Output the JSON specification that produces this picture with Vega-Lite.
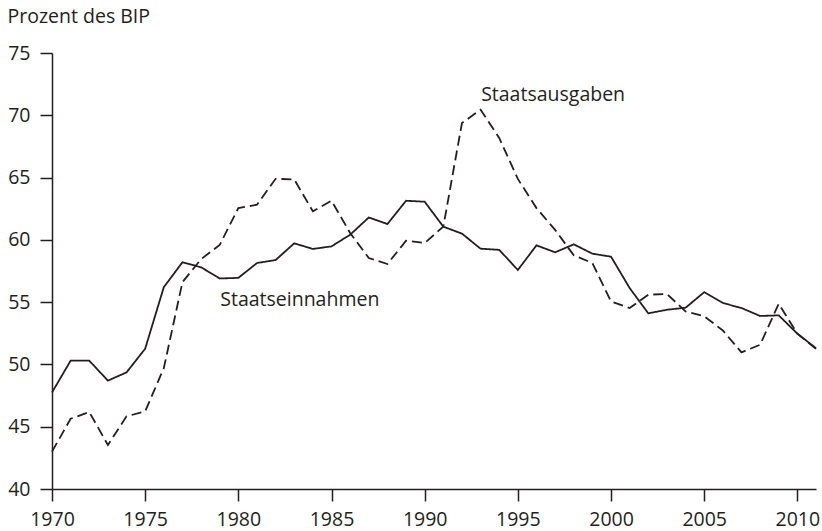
{
  "$schema": "https://vega.github.io/schema/vega-lite/v6.json",
  "width": 764,
  "height": 436,
  "autosize": {"type": "none"},
  "padding": {"left": 52, "top": 53, "right": 6, "bottom": 42},
  "background": "white",
  "config": {
    "view": {"stroke": null},
    "font": "Open Sans",
    "axis": {
      "grid": false,
      "domainColor": "#231f20",
      "domainWidth": 1.5,
      "tickColor": "#231f20",
      "tickWidth": 1.5,
      "tickSize": 12,
      "labelColor": "#231f20",
      "labelFont": "Open Sans",
      "labelFontSize": 19.5,
      "labelPadding": 9,
      "labelFlush": false,
      "labelOverlap": false
    }
  },
  "datasets": {
    "series": [
      {"year": 1970, "series": "Staatseinnahmen", "value": 47.75},
      {"year": 1971, "series": "Staatseinnahmen", "value": 50.3},
      {"year": 1972, "series": "Staatseinnahmen", "value": 50.3},
      {"year": 1973, "series": "Staatseinnahmen", "value": 48.7},
      {"year": 1974, "series": "Staatseinnahmen", "value": 49.36},
      {"year": 1975, "series": "Staatseinnahmen", "value": 51.26},
      {"year": 1976, "series": "Staatseinnahmen", "value": 56.2},
      {"year": 1977, "series": "Staatseinnahmen", "value": 58.2},
      {"year": 1978, "series": "Staatseinnahmen", "value": 57.8},
      {"year": 1979, "series": "Staatseinnahmen", "value": 56.9},
      {"year": 1980, "series": "Staatseinnahmen", "value": 56.95},
      {"year": 1981, "series": "Staatseinnahmen", "value": 58.14},
      {"year": 1982, "series": "Staatseinnahmen", "value": 58.38},
      {"year": 1983, "series": "Staatseinnahmen", "value": 59.72},
      {"year": 1984, "series": "Staatseinnahmen", "value": 59.27},
      {"year": 1985, "series": "Staatseinnahmen", "value": 59.48},
      {"year": 1986, "series": "Staatseinnahmen", "value": 60.41},
      {"year": 1987, "series": "Staatseinnahmen", "value": 61.8},
      {"year": 1988, "series": "Staatseinnahmen", "value": 61.27},
      {"year": 1989, "series": "Staatseinnahmen", "value": 63.14},
      {"year": 1990, "series": "Staatseinnahmen", "value": 63.06},
      {"year": 1991, "series": "Staatseinnahmen", "value": 61.06},
      {"year": 1992, "series": "Staatseinnahmen", "value": 60.5},
      {"year": 1993, "series": "Staatseinnahmen", "value": 59.29},
      {"year": 1994, "series": "Staatseinnahmen", "value": 59.2},
      {"year": 1995, "series": "Staatseinnahmen", "value": 57.58},
      {"year": 1996, "series": "Staatseinnahmen", "value": 59.56},
      {"year": 1997, "series": "Staatseinnahmen", "value": 59.0},
      {"year": 1998, "series": "Staatseinnahmen", "value": 59.64},
      {"year": 1999, "series": "Staatseinnahmen", "value": 58.89},
      {"year": 2000, "series": "Staatseinnahmen", "value": 58.65},
      {"year": 2001, "series": "Staatseinnahmen", "value": 56.13},
      {"year": 2002, "series": "Staatseinnahmen", "value": 54.1},
      {"year": 2003, "series": "Staatseinnahmen", "value": 54.39},
      {"year": 2004, "series": "Staatseinnahmen", "value": 54.55},
      {"year": 2005, "series": "Staatseinnahmen", "value": 55.8},
      {"year": 2006, "series": "Staatseinnahmen", "value": 54.93},
      {"year": 2007, "series": "Staatseinnahmen", "value": 54.53},
      {"year": 2008, "series": "Staatseinnahmen", "value": 53.89},
      {"year": 2009, "series": "Staatseinnahmen", "value": 53.94},
      {"year": 2010, "series": "Staatseinnahmen", "value": 52.47},
      {"year": 2011, "series": "Staatseinnahmen", "value": 51.3},
      {"year": 1970, "series": "Staatsausgaben", "value": 43.0},
      {"year": 1971, "series": "Staatsausgaben", "value": 45.64},
      {"year": 1972, "series": "Staatsausgaben", "value": 46.18},
      {"year": 1973, "series": "Staatsausgaben", "value": 43.53},
      {"year": 1974, "series": "Staatsausgaben", "value": 45.83},
      {"year": 1975, "series": "Staatsausgaben", "value": 46.23},
      {"year": 1976, "series": "Staatsausgaben", "value": 49.7},
      {"year": 1977, "series": "Staatsausgaben", "value": 56.6},
      {"year": 1978, "series": "Staatsausgaben", "value": 58.45},
      {"year": 1979, "series": "Staatsausgaben", "value": 59.6},
      {"year": 1980, "series": "Staatsausgaben", "value": 62.55},
      {"year": 1981, "series": "Staatsausgaben", "value": 62.82},
      {"year": 1982, "series": "Staatsausgaben", "value": 64.9},
      {"year": 1983, "series": "Staatsausgaben", "value": 64.85},
      {"year": 1984, "series": "Staatsausgaben", "value": 62.29},
      {"year": 1985, "series": "Staatsausgaben", "value": 63.14},
      {"year": 1986, "series": "Staatsausgaben", "value": 60.55},
      {"year": 1987, "series": "Staatsausgaben", "value": 58.54},
      {"year": 1988, "series": "Staatsausgaben", "value": 58.06},
      {"year": 1989, "series": "Staatsausgaben", "value": 59.93},
      {"year": 1990, "series": "Staatsausgaben", "value": 59.75},
      {"year": 1991, "series": "Staatsausgaben", "value": 61.06},
      {"year": 1992, "series": "Staatsausgaben", "value": 69.38},
      {"year": 1993, "series": "Staatsausgaben", "value": 70.45},
      {"year": 1994, "series": "Staatsausgaben", "value": 68.18},
      {"year": 1995, "series": "Staatsausgaben", "value": 64.89},
      {"year": 1996, "series": "Staatsausgaben", "value": 62.55},
      {"year": 1997, "series": "Staatsausgaben", "value": 60.8},
      {"year": 1998, "series": "Staatsausgaben", "value": 58.76},
      {"year": 1999, "series": "Staatsausgaben", "value": 58.14},
      {"year": 2000, "series": "Staatsausgaben", "value": 55.06},
      {"year": 2001, "series": "Staatsausgaben", "value": 54.53},
      {"year": 2002, "series": "Staatsausgaben", "value": 55.6},
      {"year": 2003, "series": "Staatsausgaben", "value": 55.65},
      {"year": 2004, "series": "Staatsausgaben", "value": 54.26},
      {"year": 2005, "series": "Staatsausgaben", "value": 53.86},
      {"year": 2006, "series": "Staatsausgaben", "value": 52.73},
      {"year": 2007, "series": "Staatsausgaben", "value": 50.97},
      {"year": 2008, "series": "Staatsausgaben", "value": 51.58},
      {"year": 2009, "series": "Staatsausgaben", "value": 54.87},
      {"year": 2010, "series": "Staatsausgaben", "value": 52.47},
      {"year": 2011, "series": "Staatsausgaben", "value": 51.25}
    ],
    "labels": [
      {"year": 1979.03, "value": 54.71, "label": "Staatseinnahmen"},
      {"year": 1993.03, "value": 71.13, "label": "Staatsausgaben"}
    ]
  },
  "layer": [
    {
      "data": {"name": "series"},
      "mark": {"type": "line", "color": "#231f20", "strokeWidth": 1.8, "clip": false},
      "encoding": {
        "x": {
          "field": "year", "type": "quantitative",
          "scale": {"domain": [1970, 2011], "nice": false, "zero": false},
          "axis": {"values": [1970, 1975, 1980, 1985, 1990, 1995, 2000, 2005, 2010], "format": "d", "title": null}
        },
        "y": {
          "field": "value", "type": "quantitative",
          "scale": {"domain": [40, 75], "nice": false, "zero": false},
          "axis": {
            "values": [40, 45, 50, 55, 60, 65, 70, 75],
            "labelPadding": 10,
            "title": "Prozent des BIP",
            "titleAngle": 0,
            "titleAlign": "left",
            "titleBaseline": "alphabetic",
            "titleX": -45,
            "titleY": -31,
            "titleFont": "Open Sans",
            "titleFontSize": 19.5,
            "titleFontWeight": "normal",
            "titleColor": "#231f20"
          }
        },
        "strokeDash": {
          "field": "series", "type": "nominal",
          "scale": {"domain": ["Staatseinnahmen", "Staatsausgaben"], "range": [[1, 0], [10, 5]]},
          "legend": null
        },
        "detail": {"field": "series"}
      }
    },
    {
      "data": {"name": "labels"},
      "mark": {"type": "text", "align": "left", "baseline": "alphabetic", "font": "Open Sans", "fontSize": 19.5, "color": "#231f20"},
      "encoding": {
        "x": {"field": "year", "type": "quantitative"},
        "y": {"field": "value", "type": "quantitative"},
        "text": {"field": "label"}
      }
    }
  ]
}
